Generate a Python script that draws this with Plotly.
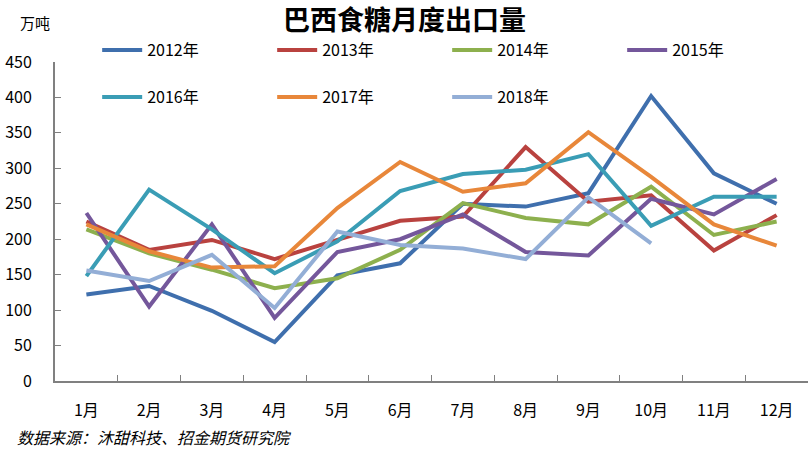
import plotly.graph_objects as go

months = ["1月", "2月", "3月", "4月", "5月", "6月", "7月", "8月", "9月", "10月", "11月", "12月"]
years = ["2012年", "2013年", "2014年", "2015年", "2016年", "2017年", "2018年"]
v2012 = [122, 134, 99, 55, 149, 166, 250, 246, 265, 402, 293, 250]
v2013 = [225, 185, 199, 172, 199, 226, 232, 330, 253, 262, 184, 234]
v2014 = [214, 180, 157, 131, 145, 185, 251, 230, 221, 274, 206, 225]
v2015 = [237, 105, 221, 89, 182, 200, 235, 182, 177, 257, 235, 285]
v2016 = [148, 270, 214, 152, 197, 268, 292, 298, 320, 219, 260, 260]
v2017 = [221, 183, 160, 162, 244, 309, 267, 279, 351, 288, 221, 191]
v2018 = [156, 141, 178, 103, 211, 192, 187, 172, 259, 194]
series = [v2012, v2013, v2014, v2015, v2016, v2017, v2018]
colors = ["#3F6FAD", "#B9423F", "#8DB04E", "#74579B", "#3A9DB5", "#E8873A", "#93AED6"]
yticks = [0, 50, 100, 150, 200, 250, 300, 350, 400, 450]

FONT = "Noto Sans CJK SC"
fig = go.Figure()
for i, (name, vals) in enumerate(zip(years, series)):
    fig.add_trace(go.Scatter(
        x=months[:len(vals)], y=vals, name=name, mode="lines",
        line=dict(color=colors[i], width=4),
        legend="legend" if i < 4 else "legend2",
    ))

legend_common = dict(orientation="h", xanchor="left", yanchor="middle",
                     font=dict(family=FONT, size=16, color="#000000"),
                     bgcolor="rgba(0,0,0,0)", entrywidth=120, entrywidthmode="pixels",
                     itemwidth=40, tracegroupgap=0)
fig.update_layout(
    width=809, height=449,
    margin=dict(l=55, r=1, t=62, b=68, autoexpand=False),
    plot_bgcolor="white", paper_bgcolor="white",
    font=dict(family=FONT, size=16, color="#000000"),
    showlegend=True,
    legend=dict(x=0.056, y=1.037, **legend_common),
    legend2=dict(x=0.056, y=0.89, **legend_common),
    xaxis=dict(type="category", range=[-0.5, 11.5], tickson="boundaries",
               ticks="inside", ticklen=6, tickcolor="#808080",
               showline=True, linecolor="#808080", linewidth=2,
               showgrid=False, tickfont=dict(size=16), ticklabelstandoff=14),
    yaxis=dict(range=[0, 450], tickvals=yticks, ticks="inside", ticklen=6,
               tickcolor="#808080", showline=True, linecolor="#808080", linewidth=2,
               showgrid=False, zeroline=False, tickfont=dict(size=16),
               ticklabelstandoff=18),
)
fig.add_annotation(text="<b>巴西食糖月度出口量</b>", xref="paper", yref="paper",
                   x=0.4635, y=1.0, yshift=44, yanchor="middle", showarrow=False,
                   font=dict(size=27, family=FONT))
fig.add_annotation(text="万吨", xref="paper", yref="paper", x=0, xshift=-37, y=1.0, yshift=40,
                   xanchor="left", yanchor="middle", showarrow=False, font=dict(size=15, family=FONT))
fig.add_annotation(text="<i>数据来源：沐甜科技、招金期货研究院</i>", xref="paper", yref="paper",
                   x=0, xshift=-40, y=0, yshift=-56, xanchor="left", yanchor="middle",
                   showarrow=False, font=dict(size=16, family=FONT))
fig.write_html("out.html", config={"displayModeBar": False},
               post_script="document.body.style.margin='0';document.body.style.overflow='hidden';")
